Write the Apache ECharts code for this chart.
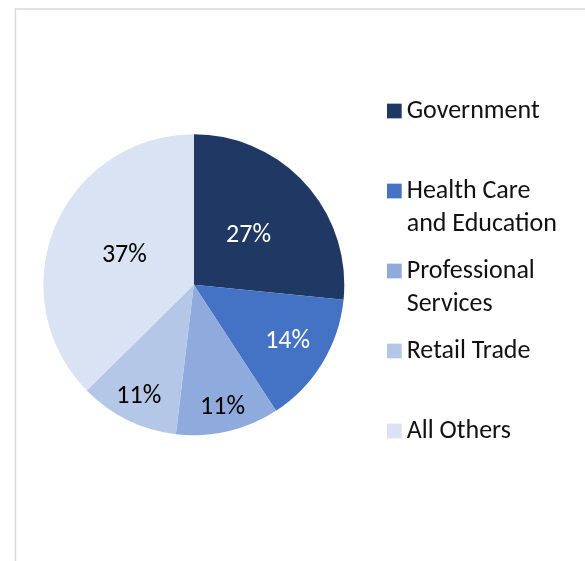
<!DOCTYPE html>
<html>
<head>
<meta charset="utf-8">
<script src="https://cdn.jsdelivr.net/npm/echarts@6/dist/echarts.min.js"></script>
<style>
html,body{margin:0;padding:0;background:#fff;}
#chart{width:585px;height:561px;}
</style>
</head>
<body>
<div id="chart"></div>
<script>
const categories = ['Government', 'Health Care and Education', 'Professional Services', 'Retail Trade', 'All Others'];
const shares = [26.6, 14.2, 11.1, 10.7, 37.4];
const legendText = [' \nGovernment\n ', ' \nHealth Care\nand Education', ' \nProfessional\nServices', ' \nRetail Trade\n ', ' \nAll Others\n '];
const colors = ['#203864', '#4472C4', '#8FAADC', '#B4C7E7', '#DAE3F3'];
const labelColors = ['#ffffff', '#ffffff', '#000000', '#000000', '#000000'];
const labelRadiusFrac = [0.49, 0.73, 0.84, 0.83, 0.50];

const FONT = 'Carlito, Lato, sans-serif';
const CX = 193.8, CY = 284.7, R = 150.5;

const chart = echarts.init(document.getElementById('chart'), null, {renderer: 'canvas'});
chart.setOption({
  backgroundColor: '#ffffff',
  animation: false,
  graphic: [{
    type: 'rect',
    left: 13, top: 6.5,
    shape: {x: 0, y: 0, width: 700, height: 700},
    style: {fill: 'none', stroke: '#d9d9d9', lineWidth: 1.5},
    silent: true
  }],
  legend: {
    orient: 'vertical',
    left: 387,
    top: 61.5,
    padding: 0,
    itemWidth: 14.7,
    itemHeight: 14.7,
    itemGap: -19,
    icon: 'rect',
    selectedMode: false,
    data: categories,
    formatter: function (name) { return legendText[categories.indexOf(name)]; },
    textStyle: {
      fontFamily: FONT,
      fontSize: 26,
      lineHeight: 33,
      color: '#111111'
    }
  },
  series: [{
    type: 'pie',
    center: [CX, CY],
    radius: R,
    startAngle: 90,
    clockwise: true,
    color: colors,
    itemStyle: {borderWidth: 0},
    label: {
      show: true,
      position: 'inside',
      fontFamily: FONT,
      fontSize: 26,
      formatter: function (p) { return Math.round(p.percent) + '%'; }
    },
    labelLine: {show: false},
    labelLayout: function (params) {
      const r = params.labelRect;
      const mx = r.x + r.width / 2, my = r.y + r.height / 2;
      const dx = mx - CX, dy = my - CY;
      const d = Math.sqrt(dx * dx + dy * dy) || 1;
      const f = labelRadiusFrac[params.dataIndex] * R / d;
      return {x: CX + dx * f, y: CY + dy * f};
    },
    data: categories.map(function (c, i) {
      return {name: c, value: shares[i], label: {color: labelColors[i]}};
    })
  }]
});
</script>
</body>
</html>
